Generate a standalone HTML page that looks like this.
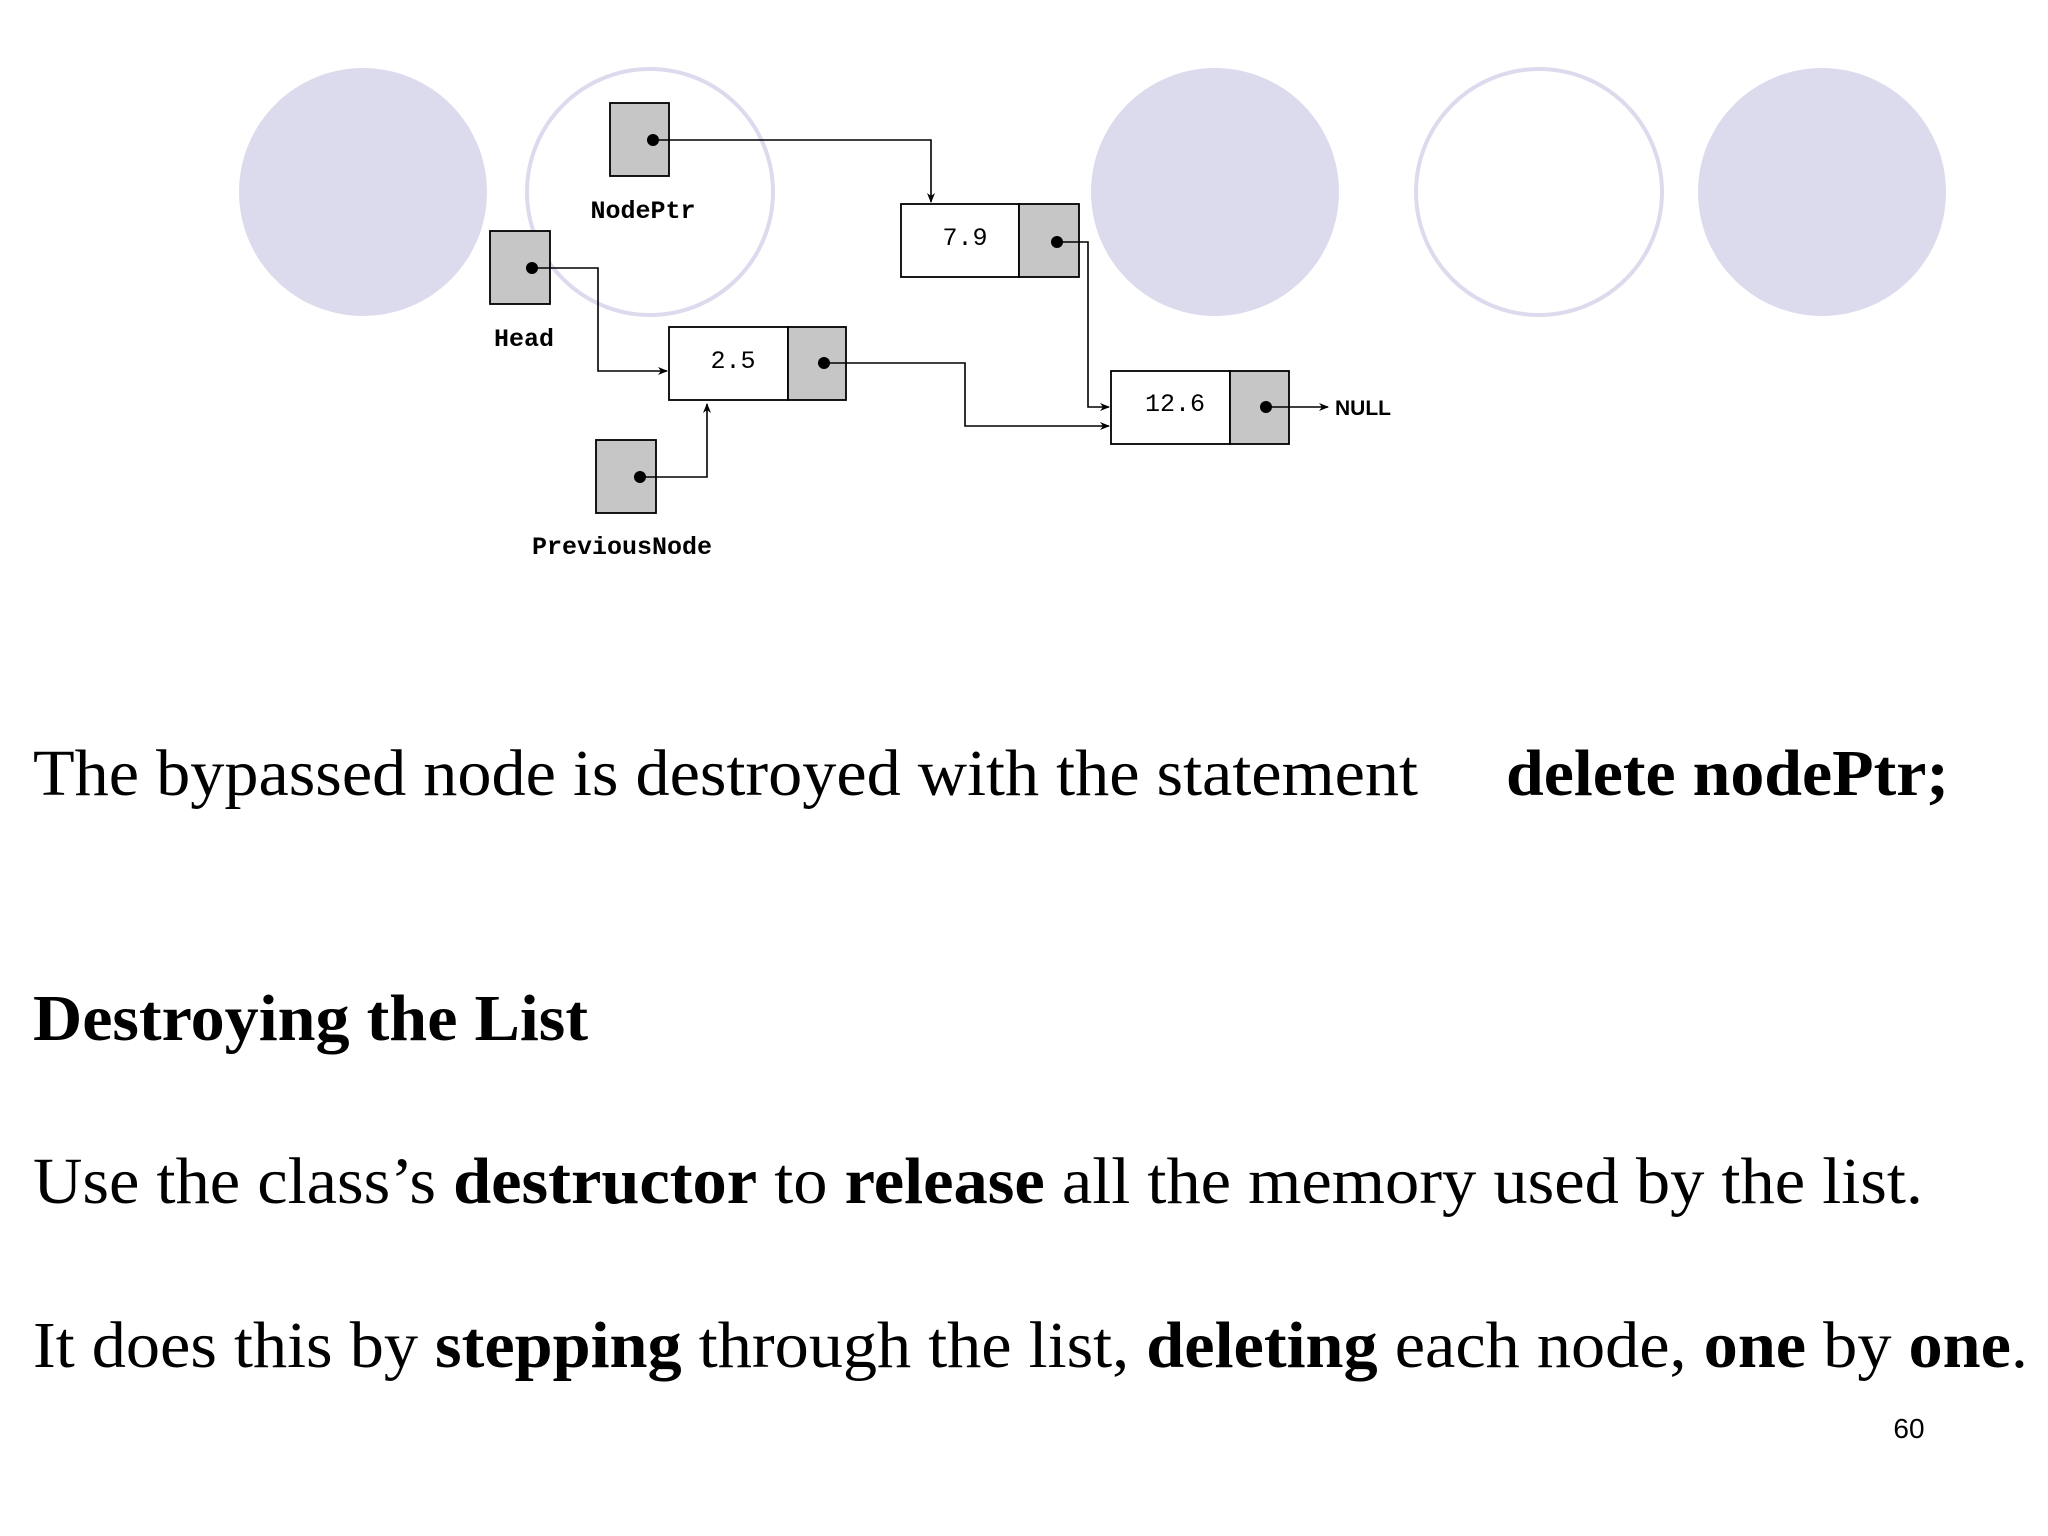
<!DOCTYPE html>
<html><head><meta charset="utf-8"><style>
html,body{margin:0;padding:0;background:#fff;}
svg{display:block}
</style></head><body>
<svg width="2048" height="1536" viewBox="0 0 2048 1536" xmlns="http://www.w3.org/2000/svg">
<defs>
<marker id="a" markerWidth="10" markerHeight="10" refX="9" refY="5" orient="auto" markerUnits="userSpaceOnUse">
<path d="M0,1 L10,5 L0,9 L3,5 Z" fill="#000"/>
</marker>
</defs>
<g fill="#dcdbed">
<circle cx="363" cy="192" r="124"/>
<circle cx="1215" cy="192" r="124"/>
<circle cx="1822" cy="192" r="124"/>
</g>
<g fill="none" stroke="#dcdbed" stroke-width="4">
<circle cx="650" cy="192" r="123"/>
<circle cx="1539" cy="192" r="123"/>
</g>
<g stroke="#000" stroke-width="1.8" fill="#c6c6c6">
<rect x="610" y="103" width="59" height="73"/>
<rect x="490" y="231" width="60" height="73"/>
<rect x="596" y="440" width="60" height="73"/>
<rect x="669" y="327" width="119" height="73" fill="#fff"/><rect x="788" y="327" width="58" height="73"/>
<rect x="901" y="204" width="118" height="73" fill="#fff"/><rect x="1019" y="204" width="60" height="73"/>
<rect x="1111" y="371" width="119" height="73" fill="#fff"/><rect x="1230" y="371" width="59" height="73"/>
</g>
<g fill="#000">
<circle cx="653" cy="140" r="6"/><circle cx="532" cy="268" r="6"/><circle cx="640" cy="477" r="6"/>
<circle cx="824" cy="363" r="6"/><circle cx="1057" cy="242" r="6"/><circle cx="1266" cy="407" r="6"/>
</g>
<g fill="none" stroke="#000" stroke-width="1.6" marker-end="url(#a)">
<polyline points="653,140 931,140 931,202"/>
<polyline points="532,268 598,268 598,371 667,371"/>
<polyline points="640,477 707,477 707,404"/>
<polyline points="824,363 965,363 965,426 1109,426"/>
<polyline points="1057,242 1088,242 1088,407 1109,407"/>
<polyline points="1266,407 1328,407"/>
</g>
<g font-family="Liberation Mono, monospace" font-size="25" text-anchor="middle">
<text x="643" y="218" font-weight="bold">NodePtr</text>
<text x="524" y="346" font-weight="bold">Head</text>
<text x="622" y="554" font-weight="bold">PreviousNode</text>
<text x="733" y="368">2.5</text>
<text x="965" y="245">7.9</text>
<text x="1175" y="411">12.6</text>
</g>
<text x="1335" y="415" font-family="Liberation Sans, sans-serif" font-weight="bold" font-size="21">NULL</text>
<g font-family="Liberation Serif, serif" font-size="66" fill="#000">
<text x="33" y="795" textLength="1385" lengthAdjust="spacingAndGlyphs">The bypassed node is destroyed with the statement</text>
<text x="1506" y="795" font-weight="bold" textLength="443" lengthAdjust="spacingAndGlyphs">delete nodePtr;</text>
<text x="33" y="1040" font-weight="bold" textLength="555" lengthAdjust="spacingAndGlyphs">Destroying the List</text>
<text x="33" y="1203" textLength="1890" lengthAdjust="spacingAndGlyphs">Use the class’s <tspan font-weight="bold">destructor</tspan> to <tspan font-weight="bold">release</tspan> all the memory used by the list.</text>
<text x="33" y="1367" textLength="1995" lengthAdjust="spacingAndGlyphs">It does this by <tspan font-weight="bold">stepping</tspan> through the list, <tspan font-weight="bold">deleting</tspan> each node, <tspan font-weight="bold">one</tspan> by <tspan font-weight="bold">one</tspan>.</text>
</g>
<text x="1909" y="1438" text-anchor="middle" font-family="Liberation Sans, sans-serif" font-size="28">60</text>
</svg>
</body></html>
